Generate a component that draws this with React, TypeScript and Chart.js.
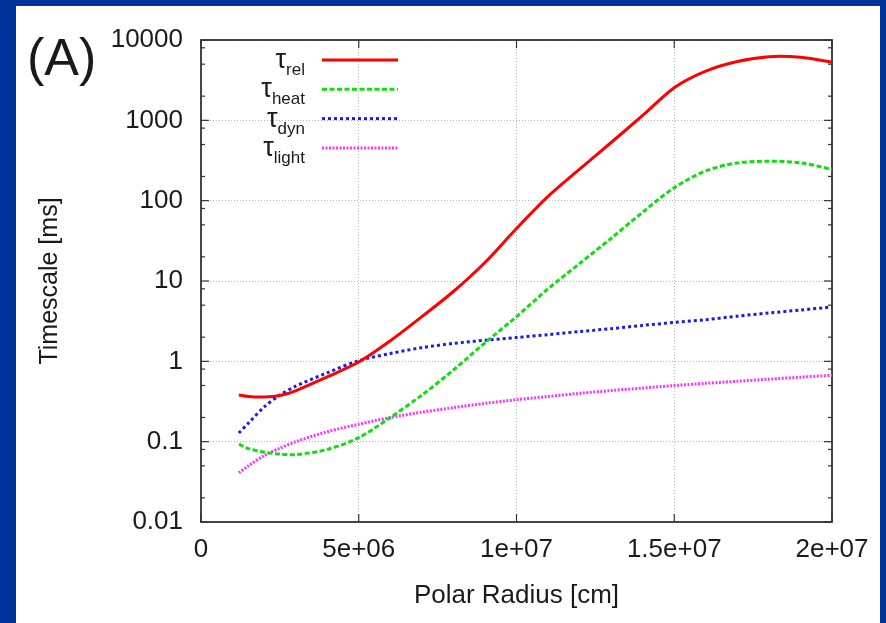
import React, { useEffect, useRef } from 'react';
import { Chart, registerables } from 'chart.js';

Chart.register(...registerables);

const FONT = "'Liberation Sans', Arial, Helvetica, sans-serif";
const TEXT = '#1a1a1a';

// Polar radius [cm]
const radius = [1.2e6, 1.5e6, 2e6, 2.5e6, 3e6, 4e6, 5e6, 6e6, 7e6, 8e6, 9e6, 1e7, 1.1e7, 1.2e7, 1.3e7, 1.4e7, 1.5e7, 1.6e7, 1.7e7, 1.8e7, 1.9e7, 2e7];
// Timescales [ms]
const tauRel = [0.38, 0.365, 0.36, 0.375, 0.43, 0.64, 0.98, 1.8, 3.6, 7.4, 17, 45, 113, 247, 530, 1150, 2550, 4100, 5400, 6200, 6100, 5300];
const tauHeat = [0.093, 0.082, 0.074, 0.07, 0.069, 0.08, 0.112, 0.2, 0.38, 0.78, 1.7, 3.6, 8.0, 16.5, 34, 72, 145, 235, 295, 310, 296, 245];
const tauDyn = [0.128, 0.17, 0.27, 0.38, 0.49, 0.72, 1.02, 1.25, 1.48, 1.67, 1.83, 1.98, 2.15, 2.35, 2.55, 2.8, 3.05, 3.3, 3.65, 4.0, 4.35, 4.75];
const tauLight = [0.041, 0.05, 0.067, 0.083, 0.1, 0.133, 0.165, 0.2, 0.233, 0.265, 0.3, 0.333, 0.365, 0.4, 0.433, 0.465, 0.5, 0.533, 0.565, 0.6, 0.635, 0.67];

const seriesSubs = ['rel', 'heat', 'dyn', 'light'];
const seriesColors = ['#ff0000', '#11dd11', '#1a1aee', '#ff33ff'];
const seriesDash: number[][] = [[], [5, 2.5], [3, 3], [2, 1.5]];

const xTicks = [0, 5e6, 1e7, 1.5e7, 2e7];
const yDecades = [0.01, 0.1, 1, 10, 100, 1000, 10000];
const yMinorFactors = [2, 5, 8];

const panelLabel = '(A)';
const xTitle = 'Polar Radius [cm]';
const yTitle = 'Timescale [ms]';

function fmtX(v: number): string {
  if (v === 0) return '0';
  const e = Math.floor(Math.log10(v) + 1e-9);
  const m = Number((v / Math.pow(10, e)).toPrecision(6));
  return `${m}e+${e < 10 ? '0' + e : e}`;
}

function fmtY(v: number): string {
  return String(Number(v.toPrecision(3)));
}

const framePlugin = {
  id: 'gnuplotFrame',
  beforeDatasetsDraw(chart: any) {
    const { ctx, chartArea: a, scales } = chart;
    const x = scales.x;
    const y = scales.y;
    ctx.save();
    ctx.strokeStyle = '#333';
    ctx.lineWidth = 1.2;
    ctx.setLineDash([]);
    const seg = (x1: number, y1: number, x2: number, y2: number) => {
      ctx.beginPath();
      ctx.moveTo(x1, y1);
      ctx.lineTo(x2, y2);
      ctx.stroke();
    };
    y.ticks.forEach((t: any) => {
      const py = y.getPixelForValue(t.value);
      const len = t.major ? 8 : 4;
      seg(a.left, py, a.left + len, py);
      seg(a.right, py, a.right - len, py);
    });
    x.ticks.forEach((t: any) => {
      const px = x.getPixelForValue(t.value);
      seg(px, a.bottom, px, a.bottom - 8);
      seg(px, a.top, px, a.top + 8);
    });
    ctx.lineWidth = 1.8;
    ctx.strokeRect(a.left, a.top, a.right - a.left, a.bottom - a.top);
    // panel label
    ctx.fillStyle = TEXT;
    ctx.font = `52px ${FONT}`;
    ctx.textAlign = 'left';
    ctx.textBaseline = 'alphabetic';
    ctx.fillText(panelLabel, 27, 75);
    ctx.restore();
  },
};

const legendPlugin = {
  id: 'texLegend',
  afterDatasetsDraw(chart: any) {
    const { ctx, chartArea: a } = chart;
    ctx.save();
    chart.data.datasets.forEach((ds: any, i: number) => {
      const rowY = a.top + 20 + i * 29.3;
      const right = a.left + 104;
      const sub = seriesSubs[i];
      ctx.fillStyle = TEXT;
      ctx.textBaseline = 'alphabetic';
      ctx.font = `17px ${FONT}`;
      const sw = ctx.measureText(sub).width;
      ctx.textAlign = 'left';
      ctx.fillText(sub, right - sw, rowY + 15);
      ctx.font = `27px ${FONT}`;
      ctx.textAlign = 'right';
      ctx.fillText('\u03c4', right - sw, rowY + 8);
      ctx.strokeStyle = ds.borderColor;
      ctx.lineWidth = ds.borderWidth;
      ctx.setLineDash(ds.borderDash || []);
      ctx.beginPath();
      ctx.moveTo(a.left + 121, rowY);
      ctx.lineTo(a.left + 197, rowY);
      ctx.stroke();
    });
    ctx.restore();
  },
};

export default function App() {
  const ref = useRef<HTMLCanvasElement | null>(null);

  useEffect(() => {
    if (!ref.current) return;
    const series = [tauRel, tauHeat, tauDyn, tauLight];
    const datasets = series.map((vals, i) => ({
      label: `\u03c4_${seriesSubs[i]}`,
      data: radius.map((r, j) => ({ x: r, y: vals[j] })),
      borderColor: seriesColors[i],
      backgroundColor: seriesColors[i],
      borderWidth: 3,
      borderDash: seriesDash[i],
      pointRadius: 0,
      fill: false,
      tension: 0.3,
    }));

    const gridColor = (c: any) => (c.tick && c.tick.major ? '#b5b5b5' : 'rgba(0,0,0,0)');

    const chart = new Chart(ref.current, {
      type: 'line',
      data: { datasets },
      options: {
        animation: false,
        responsive: false,
        events: [],
        layout: { padding: { left: 35, right: 54, top: 40, bottom: 12 } },
        plugins: { legend: { display: false }, tooltip: { enabled: false } },
        scales: {
          x: {
            type: 'linear',
            min: 0,
            max: 2e7,
            afterBuildTicks: (s: any) => {
              s.ticks = xTicks.map((v) => ({ value: v, major: true }));
            },
            afterFit: (s: any) => {
              s.height = 89;
            },
            ticks: {
              autoSkip: false,
              maxRotation: 0,
              padding: 12,
              color: TEXT,
              font: { family: FONT, size: 26 },
              callback: (v: any) => fmtX(Number(v)),
            },
            grid: { color: gridColor, lineWidth: 1, drawTicks: false },
            border: { display: false, dash: [1, 2] },
            title: {
              display: true,
              text: xTitle,
              color: TEXT,
              font: { family: FONT, size: 26 },
              padding: { top: 0, bottom: 0 },
            },
          },
          y: {
            type: 'logarithmic',
            min: 0.01,
            max: 10000,
            afterBuildTicks: (s: any) => {
              const t: any[] = [];
              yDecades.forEach((d, k) => {
                t.push({ value: d, major: true });
                if (k < yDecades.length - 1) {
                  yMinorFactors.forEach((f) => t.push({ value: Number((f * d).toPrecision(6)), major: false }));
                }
              });
              s.ticks = t;
            },
            afterFit: (s: any) => {
              s.width = 166;
            },
            ticks: {
              autoSkip: false,
              padding: 18,
              color: TEXT,
              font: { family: FONT, size: 26 },
              callback: function (this: any, v: any, idx: number, ticks: any[]) {
                return ticks[idx] && ticks[idx].major ? fmtY(Number(v)) : '';
              },
            },
            grid: { color: gridColor, lineWidth: 1, drawTicks: false },
            border: { display: false, dash: [1, 2] },
            title: {
              display: true,
              text: yTitle,
              color: TEXT,
              font: { family: FONT, size: 25 },
              padding: { top: 0, bottom: 0 },
            },
          },
        },
      } as any,
      plugins: [framePlugin, legendPlugin],
    });
    return () => chart.destroy();
  }, []);

  return (
    <div style={{ position: 'fixed', left: 0, top: 0, width: 886, height: 623, background: '#003399', overflow: 'hidden' }}>
      <div style={{ position: 'absolute', left: 16, top: 6, width: 864, height: 617, background: '#ffffff' }} />
      <canvas ref={ref} width={886} height={623} style={{ position: 'absolute', left: 0, top: 0 }} />
    </div>
  );
}
